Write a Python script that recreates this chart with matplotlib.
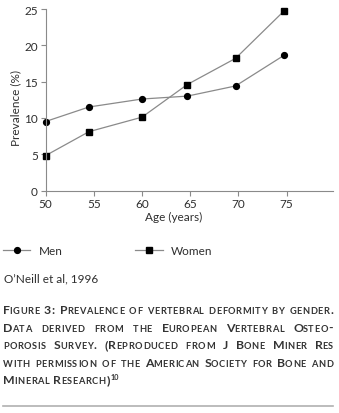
import matplotlib
matplotlib.use("Agg")
import matplotlib.pyplot as plt
from matplotlib.lines import Line2D
from matplotlib.font_manager import FontProperties

# ---------------- data ----------------
ages = [50, 54.5, 60, 64.7, 69.7, 74.7]
men = [9.5, 11.5, 12.6, 13.0, 14.4, 18.6]
women = [4.8, 8.1, 10.1, 14.6, 18.2, 24.7]
xticks = [50, 55, 60, 65, 70, 75]
yticks = [0, 5, 10, 15, 20, 25]
series_labels = ["Men", "Women"]

W, H = 339, 414
FONT = "Lato"
TXT = "#2e2e2e"
LINE = "#8a8a8a"

plt.rcParams["font.family"] = [FONT, "DejaVu Sans"]

fig = plt.figure(figsize=(W / 100, H / 100), dpi=100)

def fx(px):
    return px / W

def fy(py):
    return 1 - py / H

ax_l, ax_r, ax_t, ax_b = 45.5, 333, 10, 191.5
ax = fig.add_axes([fx(ax_l), fy(ax_b), fx(ax_r - ax_l), (ax_b - ax_t) / H])

l1, = ax.plot(ages, men, color=LINE, lw=0.9, marker="o", markersize=4.2,
              markerfacecolor="black", markeredgecolor="black", clip_on=False,
              label=series_labels[0])
l2, = ax.plot(ages, women, color=LINE, lw=0.9, marker="s", markersize=4.2,
              markerfacecolor="black", markeredgecolor="black", clip_on=False,
              label=series_labels[1])

ax.set_xlim(50, 79.8)
ax.set_ylim(0, 25)
ax.set_xticks(xticks)
ax.set_yticks(yticks)
for s in ["top", "right"]:
    ax.spines[s].set_visible(False)
for s in ["left", "bottom"]:
    ax.spines[s].set_color(LINE)
    ax.spines[s].set_linewidth(0.8)
ax.tick_params(axis="both", direction="out", length=3.5, width=0.8,
               color=LINE, labelsize=8.5, labelcolor=TXT, pad=2)
ax.set_facecolor("none")

ax.set_xlabel("Age (years)", fontsize=8.5, color=TXT)
ax.xaxis.label.set_va("center")
ax.xaxis.set_label_coords((174 - ax_l) / (ax_r - ax_l), (ax_b - 217) / (ax_b - ax_t))
ax.set_ylabel("Prevalence (%)", fontsize=8.5, color=TXT)
ax.yaxis.label.set_va("center")
ax.yaxis.set_label_coords((15.5 - ax_l) / (ax_r - ax_l), (ax_b - 108) / (ax_b - ax_t))

# legend
leg = fig.legend(handles=[l1, l2], loc="center left",
                 bbox_to_anchor=(fx(3), fy(252)), ncol=2, frameon=False,
                 fontsize=8.5, handlelength=2.3, handletextpad=0.7,
                 columnspacing=6.2, borderpad=0, borderaxespad=0)
for t in leg.get_texts():
    t.set_color(TXT)

fig.text(fx(4), fy(279), "O\u2019Neill et al, 1996", fontsize=8.5, color=TXT,
         va="center", ha="left")

# ---------------- caption in small caps ----------------
renderer = fig.canvas.get_renderer()
BIG = 8.8
SMALL = 6.7
TRACK = 0.6
B2S = -1.1   # tighten big-cap -> small-cap transitions
CAPC = "#333333"
_cache = {}

def inkw(s, size):
    key = (s, size)
    if key not in _cache:
        fp = FontProperties(family=FONT, weight="bold", size=size)
        w, h, d = renderer.get_text_width_height_descent(s, fp, ismath=False)
        _cache[key] = w
    return _cache[key]

def step(c, size):
    return inkw(c + "H", size) - inkw("H", size)

def glyphs(word):
    out = []
    for ch in word:
        small = ch.islower()
        out.append((ch.upper() if small else ch, SMALL if small else BIG))
    return out

def offsets(word):
    g = glyphs(word)
    xs = [0.0]
    for (c, s), (c2, s2) in zip(g[:-1], g[1:]):
        d = step(c, s) + TRACK
        if s == BIG and s2 == SMALL:
            d += B2S
        xs.append(xs[-1] + d)
    width = xs[-1] + inkw(g[-1][0], g[-1][1])
    return g, xs, width

def draw_line(py, line, justify=True, x0=3, x1=333, sup=None):
    words = line.split(" ")
    lay = [offsets(w) for w in words]
    widths = [l[2] for l in lay]
    nat_space = inkw("H H", BIG) - 2 * inkw("H", BIG) + 2 * TRACK
    if justify and len(words) > 1:
        space = (x1 - x0 - sum(widths)) / (len(words) - 1)
    else:
        space = nat_space
    x = x0
    for g, xs, ww in lay:
        for (c, s), dx in zip(g, xs):
            fig.text(fx(x + dx), fy(py), c, fontsize=s, fontweight="bold",
                     color=CAPC, ha="left", va="baseline")
        x = x + ww + space
    if sup:
        fig.text(fx(x - space + 1), fy(py - 4), sup, fontsize=5.2,
                 fontweight="bold", color=CAPC, ha="left", va="baseline")

caption = [
    "Figure 3: Prevalence of vertebral deformity by gender.",
    "Data derived from the European Vertebral Osteo-",
    "porosis Survey. (Reproduced from J Bone Miner Res",
    "with permission of the American Society for Bone and",
    "Mineral Research)",
]
baselines = [314.5, 332, 349.5, 367, 384.5]
for i, (ln, b) in enumerate(zip(caption, baselines)):
    last = i == len(caption) - 1
    draw_line(b, ln, justify=not last, sup="10" if last else None)

fig.add_artist(Line2D([fx(3), fx(333)], [fy(407), fy(407)], color="#b0b0b0",
                      lw=1.2, transform=fig.transFigure))

fig.savefig("out.png", dpi=100, facecolor="white")
